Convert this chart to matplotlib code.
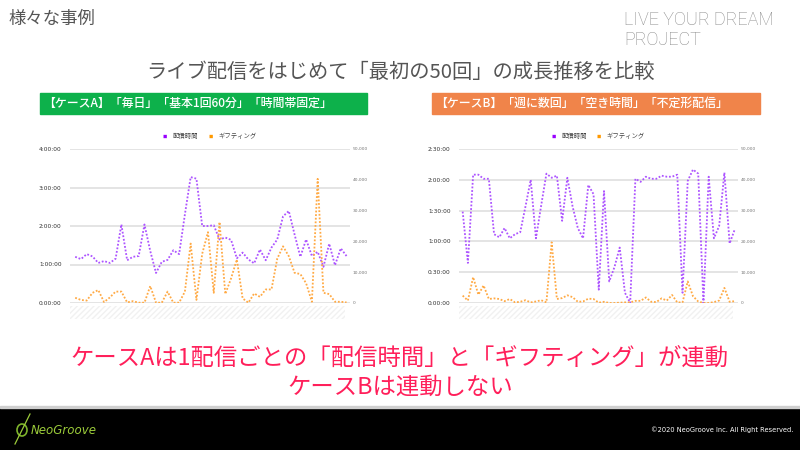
import matplotlib
matplotlib.use('Agg')
import matplotlib.pyplot as plt
from matplotlib.patches import Rectangle, Ellipse
from matplotlib.lines import Line2D
from matplotlib.ticker import FuncFormatter, MultipleLocator

plt.rcParams['font.family'] = ['Noto Sans CJK JP', 'DejaVu Sans']

# Case A: stream length (hours) and gifting per stream
case_a_hours = [1.20, 1.14, 1.27, 1.21, 1.04, 1.09, 1.04, 1.15, 2.04, 1.11,
                1.20, 1.22, 2.04, 1.35, 0.78, 1.07, 1.12, 1.37, 1.27, 2.30,
                3.27, 3.23, 2.00, 2.00, 2.02, 1.65, 1.70, 1.64, 1.16, 1.31,
                1.13, 1.03, 1.39, 1.11, 1.44, 1.65, 2.25, 2.39, 1.78, 1.20,
                1.65, 1.22, 1.33, 0.94, 1.54, 0.98, 1.42, 1.22]
case_a_gift = [1700, 1000, 800, 3300, 4200, 300, 1800, 3700, 3700, 200,
               600, 100, 100, 5500, 100, 100, 3700, 100, 100, 3700,
               19300, 1000, 16000, 23000, 3300, 26300, 2900, 8000, 14100, 1500,
               100, 3100, 2000, 4400, 4400, 14400, 18400, 15200, 9800, 9400,
               6400, 400, 40300, 3300, 2900, 400, 400, 200]

# Case B: stream length (minutes) and gifting per stream
case_b_minutes = [89, 39, 125, 125, 121, 121, 67, 64, 73, 63,
                  67, 69, 94, 120, 63, 95, 126, 122, 124, 80,
                  122, 94, 73, 63, 115, 106, 13, 109, 21, 35,
                  54, 10, 0, 121, 118, 123, 121, 121, 124, 123,
                  123, 125, 10, 119, 130, 126, 0, 123, 63, 75,
                  127, 58, 72]
case_b_gift = [2400, 800, 8400, 2700, 5700, 1300, 1500, 1300, 600, 1300,
               200, 400, 900, 200, 500, 900, 200, 19700, 1300, 1600,
               2500, 1900, 400, 500, 1400, 1300, 100, 400, 0, 0,
               100, 200, 200, 700, 700, 1800, 400, 300, 1500, 800,
               2600, 200, 200, 7000, 2200, 500, 0, 0, 300, 800,
               4900, 400, 600]

PURPLE = '#ad55ff'
ORANGE = '#ffaa45'
W, H = 800, 450


def fx(px):
    return px / W


def fy(py):
    return 1 - py / H


def hms(v, pos):
    s = int(round(v))
    return f"{s // 3600}:{s % 3600 // 60:02d}:{s % 60:02d}"


def draw_chart(fig, rect, secs, gifts, ymax, ystep, xpad):
    ax = fig.add_axes(rect)
    ax2 = ax.twinx()
    x = list(range(len(secs)))
    ax.plot(x, secs, color=PURPLE, linestyle=(0, (1, 1)), linewidth=1.3, zorder=3)
    ax2.plot(x, gifts, color=ORANGE, linestyle=(0, (1, 1)), linewidth=1.3, zorder=3)
    ax.set_xlim(-xpad[0], len(secs) - 1 + xpad[1])
    ax.set_ylim(0, ymax)
    ax2.set_ylim(0, 50000)
    ax.yaxis.set_major_locator(MultipleLocator(ystep))
    ax.yaxis.set_major_formatter(FuncFormatter(hms))
    ax2.yaxis.set_major_locator(MultipleLocator(10000))
    ax2.yaxis.set_major_formatter(FuncFormatter(lambda v, p: f"{int(v):,}"))
    ax.grid(axis='y', color='#e2e2e2', linewidth=1.3)
    ax.set_axisbelow(True)
    for a in (ax, ax2):
        for sp in a.spines.values():
            sp.set_visible(False)
        a.set_xticks([])
    ax.tick_params(axis='y', length=0, labelsize=4.2, labelcolor='#333', pad=6)
    ax2.tick_params(axis='y', length=0, labelsize=3.2, labelcolor='#777', pad=2)
    for lab in ax.get_yticklabels() + ax2.get_yticklabels():
        lab.set_family('DejaVu Sans')
    # hatched band where the rotated date labels sit
    l, b, w, h = rect
    fig.patches.append(Rectangle((l, b - 16 / H), w - 5 / W, 13 / H,
                                 transform=fig.transFigure, facecolor='white',
                                 edgecolor='#f1f1f1', hatch='//////', linewidth=0))
    handles = [Line2D([], [], color='#9900ff', linestyle=(0, (1, 1.2)), linewidth=2.4),
               Line2D([], [], color='#ff9900', linestyle=(0, (1, 1.2)), linewidth=2.4)]
    ax.legend(handles, ['配信時間', 'ギフティング'], loc='lower center',
              bbox_to_anchor=(0.5, 1.02), ncol=2, frameon=False, fontsize=4.6,
              handlelength=1.0, handletextpad=0.5, columnspacing=1.6,
              labelcolor='#444')
    return ax


fig = plt.figure(figsize=(8, 4.5), dpi=100)
fig.patch.set_facecolor('white')

# header
fig.text(fx(8), fy(19), '様々な事例', fontsize=12.5, color='#555', va='center')
fig.text(fx(624), fy(30), 'LIVE YOUR DREAM\nPROJECT', fontsize=13, color='#8a8a8a',
         family=['Roboto', 'DejaVu Sans'], fontweight='light', va='center',
         linespacing=1.1)
fig.text(0.5, fy(72), 'ライブ配信をはじめて「最初の50回」の成長推移を比較',
         fontsize=14.6, color='#555', ha='center', va='center')

# case boxes
fig.patches.append(Rectangle((fx(40), fy(114)), fx(327), 21 / H,
                             transform=fig.transFigure, color='#0db14b'))
fig.patches.append(Rectangle((fx(432), fy(114)), fx(328), 21 / H,
                             transform=fig.transFigure, color='#f0844a'))
fig.text(fx(43), fy(103.5), '【ケースA】「毎日」「基本1回60分」「時間帯固定」',
         fontsize=8.6, color='white', va='center', fontweight='medium')
fig.text(fx(435), fy(103.5), '【ケースB】「週に数回」「空き時間」「不定形配信」',
         fontsize=8.6, color='white', va='center', fontweight='medium')

# charts
draw_chart(fig, [fx(70), fy(303), fx(280), 154 / H],
           [h * 3600 for h in case_a_hours], case_a_gift, 4 * 3600, 3600, (0.9, 0.6))
draw_chart(fig, [fx(459), fy(303), fx(279), 154 / H],
           [m * 60 for m in case_b_minutes], case_b_gift, 9000, 1800, (0.7, 0.6))

# conclusion
fig.text(0.5, fy(358), 'ケースAは1配信ごとの「配信時間」と「ギフティング」が連動',
         fontsize=16.8, color='#ff1f5a', ha='center', va='center')
fig.text(0.5, fy(387), 'ケースBは連動しない',
         fontsize=16.8, color='#ff1f5a', ha='center', va='center')

# footer
fig.patches.append(Rectangle((0, 0), 1, 42 / H, transform=fig.transFigure,
                             color='black'))
fig.patches.append(Rectangle((0, 42 / H), 1, 2 / H, transform=fig.transFigure,
                             color='#cfcfcf'))
fig.patches.append(Ellipse((fx(22), fy(430)), 10 / W, 12 / H, transform=fig.transFigure,
                           facecolor='none', edgecolor='#7db32b', linewidth=1.2))
fig.lines.append(Line2D([fx(15), fx(30)], [fy(444), fy(414)], transform=fig.transFigure,
                        color='#9ccc3a', linewidth=0.9))
fig.text(fx(31), fy(430), 'NeoGroove', fontsize=8.5, color='#9ccc3a', style='italic',
         family=['DejaVu Sans'], va='center')
fig.text(fx(793), fy(430), '©2020 NeoGroove Inc. All Right Reserved.', fontsize=4.8,
         color='white', ha='right', va='center', family=['DejaVu Sans'])

fig.savefig('out.png', dpi=100)
